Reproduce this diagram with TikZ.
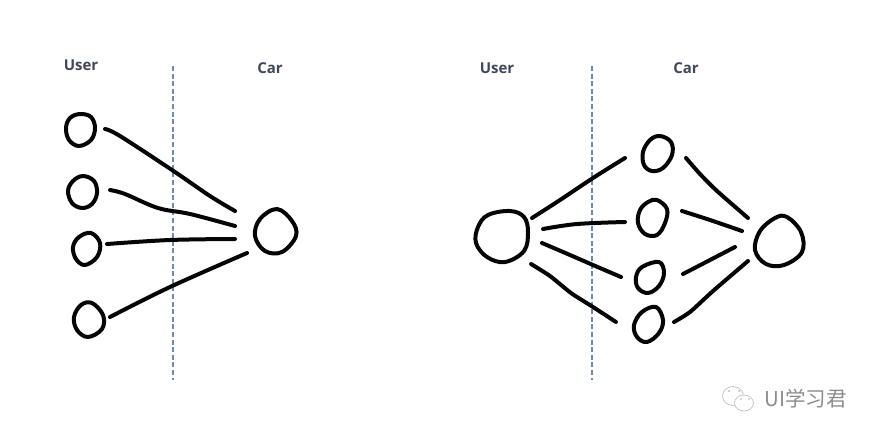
\documentclass[tikz,border=0pt]{standalone}
\usepackage{fontspec}
\usetikzlibrary{shapes.geometric}
\setmainfont{Open Sans}
\newfontfamily\cjk{Noto Sans CJK SC}
\definecolor{inkc}{HTML}{050505}
\definecolor{labelc}{HTML}{41465A}
\definecolor{divc}{HTML}{6C8CAB}
\definecolor{markc}{HTML}{8C8C8C}
\tikzset{
  ink/.style={line width=4pt,color=inkc,line cap=round,line join=round},
  spot/.style={ellipse,inner sep=0pt,outer sep=0pt},
  divider/.style={line width=1.4pt,color=divc,dash pattern=on 5pt off 2.6pt},
  head/.style={font=\bfseries\fontsize{15}{17}\selectfont,text=labelc,inner sep=0pt},
  wmicon/.style={draw=markc!55,line width=0.7pt,fill=white},
  wmeye/.style={fill=markc!70,draw=none}
}
\newcommand{\handdrawn}[1]{\draw[ink] plot[smooth cycle,tension=0.62] coordinates {#1};}
\begin{document}
\begin{tikzpicture}[x=1pt,y=-1pt]
\useasboundingbox (0,0) rectangle (875,437);
% labels
\node[head] (uL) at (81,65) {User};
\node[head] (cL) at (270,68) {Car};
\node[head] (uR) at (497,68) {User};
\node[head] (cR) at (686,68) {Car};
% dividers
\coordinate (d1a) at (173,66); \coordinate (d1b) at (173,380);
\coordinate (d2a) at (592,66); \coordinate (d2b) at (592,380);
\draw[divider] (d1a) -- (d1b);
\draw[divider] (d2a) -- (d2b);
% left nodes
\node[spot,minimum width=29pt,minimum height=33pt] (a1) at (81,130) {};
\node[spot,minimum width=29pt,minimum height=33pt] (a2) at (83,191) {};
\node[spot,minimum width=27pt,minimum height=33pt] (a3) at (87,249) {};
\node[spot,minimum width=30pt,minimum height=33pt] (a4) at (88,319) {};
\node[spot,minimum width=42pt,minimum height=48pt] (a5) at (275,232) {};
\handdrawn{(80,114) (91,117) (95,128) (91,140) (79,146) (69,140) (66,128) (70,118)}
\handdrawn{(83,176) (94,181) (97,193) (92,204) (82,208) (72,203) (68,191) (73,181)}
\handdrawn{(91,233) (100,243) (97,257) (85,265) (76,259) (73,247) (79,237)}
\handdrawn{(92,303) (103,315) (102,329) (88,337) (77,330) (74,317) (81,305)}
\handdrawn{(277,209) (292,221) (296,236) (282,252) (265,251) (255,236) (260,219)}
% left connectors
\coordinate (a1s) at (105,129); \coordinate (a1e) at (235,211);
\coordinate (a2s) at (110,190); \coordinate (a2e) at (235,226);
\coordinate (a3s) at (107,244); \coordinate (a3e) at (235,239);
\coordinate (a4s) at (110,317); \coordinate (a4e) at (247,253);
\draw[ink] plot[smooth,tension=0.6] coordinates {(a1s) (120,136) (172,170) (210,196) (a1e)};
\draw[ink] plot[smooth,tension=0.6] coordinates {(a2s) (125,194) (158,208) (190,214) (a2e)};
\draw[ink] plot[smooth,tension=0.6] coordinates {(a3s) (170,240) (a3e)};
\draw[ink] plot[smooth,tension=0.6] coordinates {(a4s) (170,287) (a4e)};
% right nodes
\node[spot,minimum width=54pt,minimum height=51pt] (b0) at (502,237) {};
\node[spot,minimum width=31pt,minimum height=36pt] (b1) at (657,153) {};
\node[spot,minimum width=28pt,minimum height=36pt] (b2) at (653,218) {};
\node[spot,minimum width=29pt,minimum height=32pt] (b3) at (650,277) {};
\node[spot,minimum width=29pt,minimum height=35pt] (b4) at (648,324) {};
\node[spot,minimum width=49pt,minimum height=49pt] (b5) at (778,242) {};
\handdrawn{(510,211) (524,217) (528,232) (524,251) (505,262) (487,257) (476,243) (478,227) (488,215)}
\handdrawn{(660,136) (671,142) (672,155) (663,168) (652,171) (644,165) (643,152) (650,140)}
\handdrawn{(657,200) (667,209) (665,223) (657,235) (645,234) (638,223) (640,210) (648,202)}
\handdrawn{(659,262) (664,273) (659,286) (648,293) (638,288) (636,277) (642,267)}
\handdrawn{(656,307) (663,320) (659,333) (647,342) (637,337) (634,325) (642,312)}
\handdrawn{(787,217) (801,232) (802,252) (784,265) (766,264) (755,250) (760,231) (775,218)}
% right connectors
\coordinate (c1s) at (532,218); \coordinate (c1e) at (625,158);
\coordinate (c2s) at (543,229); \coordinate (c2e) at (625,222);
\coordinate (c3s) at (542,243); \coordinate (c3e) at (621,277);
\coordinate (c4s) at (531,264); \coordinate (c4e) at (616,322);
\coordinate (c5s) at (686,158); \coordinate (c5e) at (748,218);
\coordinate (c6s) at (682,211); \coordinate (c6e) at (742,231);
\coordinate (c7s) at (683,274); \coordinate (c7e) at (735,247);
\coordinate (c8s) at (674,322); \coordinate (c8e) at (748,261);
\draw[ink] plot[smooth,tension=0.6] coordinates {(c1s) (560,200) (593,178) (c1e)};
\draw[ink] plot[smooth,tension=0.6] coordinates {(c2s) (577,224) (c2e)};
\draw[ink] plot[smooth,tension=0.6] coordinates {(c3s) (570,255) (593,265) (c3e)};
\draw[ink] plot[smooth,tension=0.4] coordinates {(c4s) (550,276) (571,293) (593,307) (c4e)};
\draw[ink] plot[smooth,tension=0.4] coordinates {(c5s) (700,174) (717,191) (c5e)};
\draw[ink] plot[smooth,tension=0.6] coordinates {(c6s) (710,220) (c6e)};
\draw[ink] plot[smooth,tension=0.6] coordinates {(c7s) (710,260) (c7e)};
\draw[ink] plot[smooth,tension=0.4] coordinates {(c8s) (690,312) (713,291) (c8e)};
% watermark
\draw[wmicon] (733,396) ellipse (10.5pt and 9.5pt);
\draw[wmicon] (744,403) ellipse (9.5pt and 8pt);
\fill[wmeye] (729,391) circle (1pt) (739,391) circle (1pt) (741,399) circle (0.9pt) (749,399) circle (0.9pt);
\node[text=markc,inner sep=0pt,anchor=west,font=\cjk\fontsize{20.5}{22}\selectfont] (wm) at (764.5,399) {UI学习君};
\end{tikzpicture}
\end{document}
